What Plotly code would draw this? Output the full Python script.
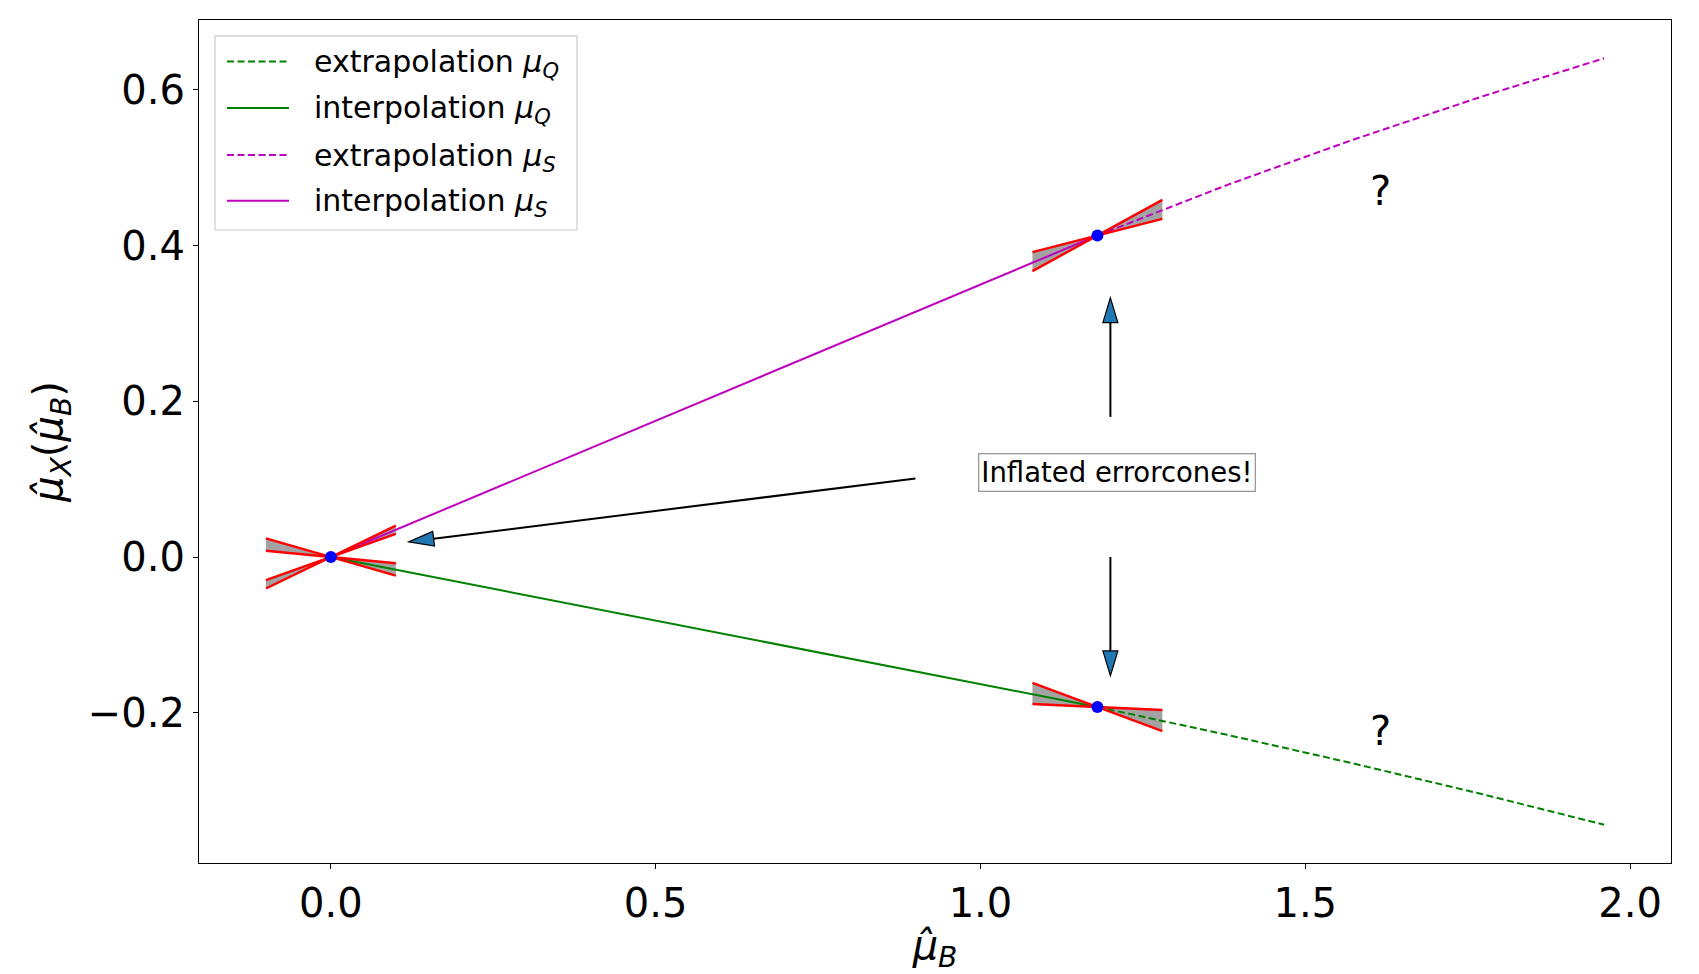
import plotly.graph_objects as go

# ---------------- data ----------------
x_interp_S = [0.0, 1.18]
y_interp_S = [0.0, 0.413]
x_extrap_S = [1.18, 1.38, 1.57, 1.77, 1.96]
y_extrap_S = [0.413, 0.478, 0.535, 0.591, 0.6406]

x_interp_Q = [0.0, 1.18]
y_interp_Q = [0.0, -0.1926]
x_extrap_Q = [1.18, 1.38, 1.57, 1.77, 1.96]
y_extrap_Q = [-0.1926, -0.2284, -0.2644, -0.3041, -0.3438]

point_x = [0.0, 1.18, 1.18]
point_y = [0.0, 0.413, -0.1926]

cone_x0 = [0.0, 0.0, 1.18, 1.18]
cone_y0 = [0.0, 0.0, 0.413, -0.1926]
cone_slope_a = [0.296, -0.239, 0.213, -0.310]
cone_slope_b = [0.404, -0.080, 0.458, -0.038]
cone_half = 0.1

arrow_tail_x = [0.90, 1.20, 1.20]
arrow_tail_y = [0.101, 0.180, 0.0]
arrow_tip_x = [0.12, 1.20, 1.20]
arrow_tip_y = [0.0195, 0.333, -0.1525]

x_ticks = [0.0, 0.5, 1.0, 1.5, 2.0]
y_ticks = [-0.2, 0.0, 0.2, 0.4, 0.6]

legend_labels = ["extrapolation <i>μ</i><sub><i>Q</i></sub>",
                 "interpolation <i>μ</i><sub><i>Q</i></sub>",
                 "extrapolation <i>μ</i><sub><i>S</i></sub>",
                 "interpolation <i>μ</i><sub><i>S</i></sub>"]

# ---------------- styling / layout ----------------
W, H = 1699, 974
ML, MR, MT, MB = 199, 28, 20, 107
PW, PH = W - ML - MR, H - MT - MB
XR = [-0.203, 2.063]
YR = [-0.3930, 0.6898]
SX = PW / (XR[1] - XR[0])
SY = PH / (YR[1] - YR[0])

GREEN = "#008000"
MAGENTA = "#bf00bf"
FONT = "DejaVu Sans"
DASH = "7px,3.5px"

fig = go.Figure()

# cones (gray fill)
for x0, y0, sa, sb in zip(cone_x0, cone_y0, cone_slope_a, cone_slope_b):
    h = cone_half
    xs = [x0 - h, x0, x0 + h, x0 + h, x0, x0 - h, x0 - h]
    ys = [y0 - sa * h, y0, y0 + sa * h, y0 + sb * h, y0, y0 - sb * h, y0 - sa * h]
    fig.add_trace(go.Scatter(x=xs, y=ys, mode="lines", fill="toself",
                             fillcolor="rgba(128,128,128,0.72)",
                             line=dict(width=0), hoverinfo="skip", showlegend=False))

# series lines
fig.add_trace(go.Scatter(x=x_extrap_Q, y=y_extrap_Q, mode="lines", name="extrapolation μQ",
                         line=dict(color=GREEN, width=2, dash=DASH), showlegend=False))
fig.add_trace(go.Scatter(x=x_interp_Q, y=y_interp_Q, mode="lines", name="interpolation μQ",
                         line=dict(color=GREEN, width=2), showlegend=False))
fig.add_trace(go.Scatter(x=x_extrap_S, y=y_extrap_S, mode="lines", name="extrapolation μS",
                         line=dict(color=MAGENTA, width=2, dash=DASH), showlegend=False))
fig.add_trace(go.Scatter(x=x_interp_S, y=y_interp_S, mode="lines", name="interpolation μS",
                         line=dict(color=MAGENTA, width=2), showlegend=False))

# red cone edges
for x0, y0, sa, sb in zip(cone_x0, cone_y0, cone_slope_a, cone_slope_b):
    h = cone_half
    for s in (sa, sb):
        fig.add_trace(go.Scatter(x=[x0 - h, x0 + h], y=[y0 - s * h, y0 + s * h], mode="lines",
                                 line=dict(color="#ff0000", width=2.4),
                                 hoverinfo="skip", showlegend=False))

# points
fig.add_trace(go.Scatter(x=point_x, y=point_y, mode="markers",
                         marker=dict(color="#0000ff", size=12), showlegend=False))

shapes = []
annotations = []

# arrows: shaft + filled head
HEAD_L, HEAD_W = 25, 7.5
for tx, ty, hx, hy in zip(arrow_tail_x, arrow_tail_y, arrow_tip_x, arrow_tip_y):
    dxp = (hx - tx) * SX
    dyp = (hy - ty) * SY
    L = (dxp ** 2 + dyp ** 2) ** 0.5
    ux, uy = dxp / L, dyp / L
    bx, by = -HEAD_L * ux, -HEAD_L * uy
    nx, ny = -uy, ux
    base_x = hx + bx / SX
    base_y = hy + by / SY
    p1 = (base_x + HEAD_W * nx / SX, base_y + HEAD_W * ny / SY)
    p2 = (base_x - HEAD_W * nx / SX, base_y - HEAD_W * ny / SY)
    shapes.append(dict(type="line", xref="x", yref="y", x0=tx, y0=ty, x1=base_x, y1=base_y,
                       line=dict(color="black", width=2)))
    shapes.append(dict(type="path", xref="x", yref="y",
                       path=f"M {hx},{hy} L {p1[0]},{p1[1]} L {p2[0]},{p2[1]} Z",
                       fillcolor="#1f77b4", line=dict(color="black", width=1.2)))

annotations.append(dict(x=1.21, y=0.109, xref="x", yref="y", text="Inflated errorcones!",
                        showarrow=False, font=dict(family=FONT, size=27.5, color="black"),
                        bgcolor="white", bordercolor="#999999", borderwidth=1.3, borderpad=2))
annotations.append(dict(x=1.616, y=0.470, xref="x", yref="y", text="?", showarrow=False,
                        font=dict(family=FONT, size=40, color="black")))
annotations.append(dict(x=1.616, y=-0.223, xref="x", yref="y", text="?", showarrow=False,
                        font=dict(family=FONT, size=40, color="black")))

# custom legend (pixel geometry -> paper coords)
def px2paper(px, py):
    return (px - ML) / PW, (MT + PH - py) / PH

lx0, ly0 = px2paper(215, 36)
lx1, ly1 = px2paper(577, 231)
shapes.append(dict(type="rect", xref="paper", yref="paper", x0=lx0, y0=ly1, x1=lx1, y1=ly0,
                   fillcolor="rgba(255,255,255,0.8)", line=dict(color="#cccccc", width=1.2)))
leg_colors = [GREEN, GREEN, MAGENTA, MAGENTA]
leg_dash = [DASH, "solid", DASH, "solid"]
row_y = [61.7, 108.3, 155.7, 201.7]
for lab, c, d, ry in zip(legend_labels, leg_colors, leg_dash, row_y):
    a0 = px2paper(227, ry)
    a1 = px2paper(289, ry)
    shapes.append(dict(type="line", xref="paper", yref="paper", x0=a0[0], y0=a0[1],
                       x1=a1[0], y1=a1[1], line=dict(color=c, width=2, dash=d)))
    t = px2paper(312, ry + 2)
    annotations.append(dict(x=t[0], y=t[1], xref="paper", yref="paper", text=lab,
                            showarrow=False, xanchor="left", yanchor="middle",
                            font=dict(family=FONT, size=30, color="black")))

fig.update_layout(
    width=W, height=H,
    margin=dict(l=ML, r=MR, t=MT, b=MB),
    paper_bgcolor="white", plot_bgcolor="white",
    shapes=shapes, annotations=annotations,
    showlegend=False,
    font=dict(family=FONT, color="black"),
)
fig.update_xaxes(range=XR, tickvals=x_ticks, ticktext=[f"{v:.1f}" for v in x_ticks],
                 showgrid=False, zeroline=False, showline=True, linecolor="black",
                 linewidth=1.2, mirror=True, ticks="outside", ticklen=5, tickcolor="black",
                 tickfont=dict(family=FONT, size=40, color="black"),
                 title=dict(text="<i>μ̂</i><sub><i>B</i></sub>",
                            font=dict(family=FONT, size=40, color="black"), standoff=8))
fig.update_yaxes(range=YR, tickvals=y_ticks,
                 ticktext=[("−" if v < 0 else "") + f"{abs(v):.1f}" for v in y_ticks],
                 showgrid=False, zeroline=False, showline=True, linecolor="black",
                 linewidth=1.2, mirror=True, ticks="outside", ticklen=5, tickcolor="black",
                 tickfont=dict(family=FONT, size=40, color="black"),
                 title=dict(text="<i>μ̂</i><sub><i>X</i></sub>(<i>μ̂</i><sub><i>B</i></sub>)",
                            font=dict(family=FONT, size=40, color="black"), standoff=12))

fig.write_html("out.html")
